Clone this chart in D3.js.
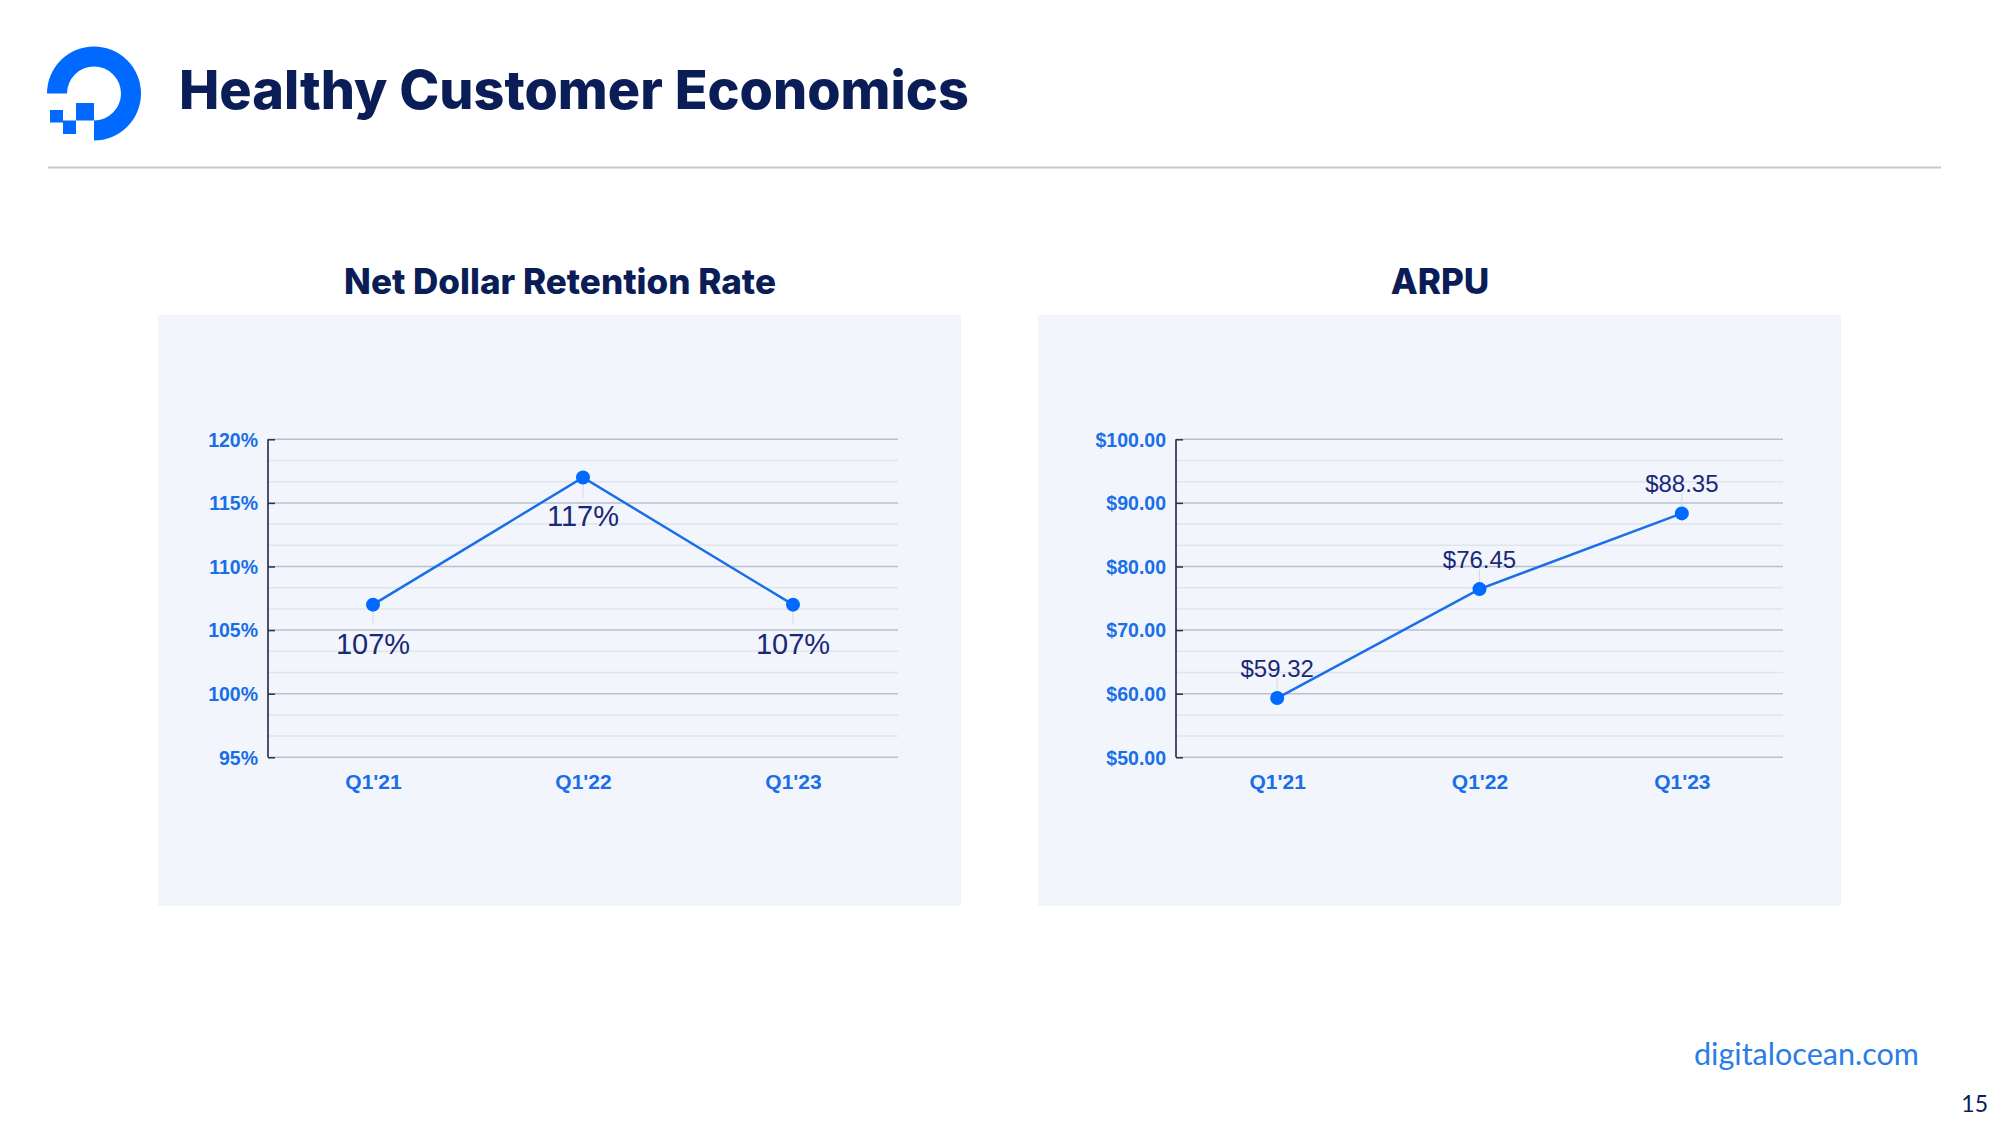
<!DOCTYPE html>
<html>
<head>
<meta charset="utf-8">
<script src="https://cdn.jsdelivr.net/npm/d3@7"></script>
<style>
  html, body { margin: 0; padding: 0; background: #ffffff; }
  svg { display: block; }
</style>
</head>
<body>
<svg id="chart" width="2000" height="1125"></svg>
<script>
// ---------- DATA ----------
const pageTitle = "Healthy Customer Economics";
const categories = ["Q1'21", "Q1'22", "Q1'23"];

const ndrTitle = "Net Dollar Retention Rate";
const ndrValues = [107, 117, 107];
const ndrLabels = ["107%", "117%", "107%"];
const ndrTicks = [95, 100, 105, 110, 115, 120];
const ndrTickLabels = ["95%", "100%", "105%", "110%", "115%", "120%"];

const arpuTitle = "ARPU";
const arpuValues = [59.32, 76.45, 88.35];
const arpuLabels = ["$59.32", "$76.45", "$88.35"];
const arpuTicks = [50, 60, 70, 80, 90, 100];
const arpuTickLabels = ["$50.00", "$60.00", "$70.00", "$80.00", "$90.00", "$100.00"];

const footerText = "digitalocean.com";
const pageNumber = "15";

// ---------- STYLE ----------
const NAVY = "#0b1d57";
const BLUE = "#0069ff";
const TICKBLUE = "#1a6ee8";
const LABELNAVY = "#1a2878";

const svg = d3.select("#chart");
svg.append("rect").attr("width", 2000).attr("height", 1125).attr("fill", "#ffffff");

function fitWidth(sel, target) {
  const node = sel.node();
  const fs = parseFloat(sel.attr("font-size"));
  const w = node.getComputedTextLength();
  if (w > 0) sel.attr("font-size", (fs * target / w).toFixed(2));
  return parseFloat(sel.attr("font-size"));
}

// ---------- LOGO ----------
const logo = svg.append("g").attr("fill", BLUE);
const cx = 94, cy = 93.5, R = 47, r = 27;
const arc = d3.arc().innerRadius(r).outerRadius(R)
  .startAngle(-Math.PI / 2).endAngle(Math.PI);
logo.append("path").attr("d", arc()).attr("transform", `translate(${cx},${cy})`);
logo.append("rect").attr("x", 76).attr("y", 103).attr("width", 18).attr("height", 17.5);
logo.append("rect").attr("x", 63).attr("y", 120.5).attr("width", 13).attr("height", 13.5);
logo.append("rect").attr("x", 50).attr("y", 110).attr("width", 13).attr("height", 12.5);

// ---------- HEADER ----------
const ttl = svg.append("text")
  .attr("x", 179).attr("y", 109)
  .attr("font-family", "Inter, 'Noto Sans', sans-serif")
  .attr("font-weight", 800).attr("font-size", 54)
  .attr("fill", NAVY).text(pageTitle);
fitWidth(ttl, 790);

svg.append("line").attr("x1", 48).attr("x2", 1941).attr("y1", 167.5).attr("y2", 167.5)
  .attr("stroke", "#c9c9c9").attr("stroke-width", 2);

// ---------- FOOTER ----------
const ft = svg.append("text")
  .attr("x", 1694).attr("y", 1065)
  .attr("font-family", "Lato, 'Open Sans', sans-serif")
  .attr("font-size", 28).attr("fill", "#2a7de8").text(footerText);
fitWidth(ft, 225);

svg.append("text").attr("x", 1988).attr("y", 1112).attr("text-anchor", "end")
  .attr("font-family", "Lato, 'Open Sans', sans-serif")
  .attr("font-size", 23).attr("fill", NAVY).text(pageNumber);

// ---------- CHART PANEL ----------
let chartTitleSize = null;

function drawPanel(opts) {
  const g = svg.append("g");
  g.append("rect").attr("x", opts.panelX).attr("y", 315)
    .attr("width", 803).attr("height", 591).attr("fill", "#f2f6fc");

  const t = g.append("text")
    .attr("x", opts.titleX).attr("y", 294).attr("text-anchor", "middle")
    .attr("font-family", "Inter, 'Noto Sans', sans-serif")
    .attr("font-weight", 800).attr("font-size", chartTitleSize || 33)
    .attr("fill", NAVY).text(opts.title);
  if (!chartTitleSize) chartTitleSize = fitWidth(t, opts.titleW);

  const x = d3.scalePoint().domain(categories)
    .range([opts.axisX, opts.axisRight]).padding(0.5);
  const y = d3.scaleLinear().domain(opts.domain).range([757.3, 439.3]);

  // minor grid
  const step = (opts.ticks[1] - opts.ticks[0]) / 3;
  const minor = d3.range(0, (opts.domain[1] - opts.domain[0]) / step + 0.5)
    .map(i => opts.domain[0] + i * step)
    .filter(v => !opts.ticks.some(tk => Math.abs(tk - v) < 1e-6));
  g.selectAll(".minor").data(minor).join("line")
    .attr("x1", opts.axisX).attr("x2", opts.axisRight)
    .attr("y1", d => y(d)).attr("y2", d => y(d))
    .attr("stroke", "#dfe5ed").attr("stroke-width", 1.5);

  // major grid
  g.selectAll(".major").data(opts.ticks).join("line")
    .attr("x1", opts.axisX).attr("x2", opts.axisRight)
    .attr("y1", d => y(d)).attr("y2", d => y(d))
    .attr("stroke", "#b9c0cb").attr("stroke-width", 1.5);

  // y axis
  const yAxis = d3.axisLeft(y).tickValues(opts.ticks)
    .tickFormat((d, i) => opts.tickLabels[i]).tickSize(-7).tickPadding(10);
  const ya = g.append("g").attr("transform", `translate(${opts.axisX},0)`).call(yAxis);
  ya.select(".domain").attr("stroke", "#141a3a").attr("stroke-width", 1.5)
    .attr("d", `M0,${y.range()[0]}V${y.range()[1]}`);
  ya.selectAll(".tick line").attr("stroke", "#2a3050").attr("stroke-width", 1.5);
  ya.selectAll(".tick text")
    .attr("font-family", "'Liberation Sans', Arial, sans-serif")
    .attr("font-weight", 700).attr("font-size", 19.5).attr("fill", TICKBLUE)
    .attr("dy", "0.35em");

  // x axis
  const xAxis = d3.axisBottom(x).tickSize(0).tickPadding(0);
  const xa = g.append("g").attr("transform", `translate(0,757.3)`).call(xAxis);
  xa.select(".domain").remove();
  xa.selectAll(".tick text")
    .attr("font-family", "'Liberation Sans', Arial, sans-serif")
    .attr("font-weight", 700).attr("font-size", 21).attr("fill", TICKBLUE)
    .attr("y", 32).attr("dy", 0);

  const pts = categories.map((c, i) => ({ c, v: opts.values[i], l: opts.labels[i] }));

  // leader lines
  g.selectAll(".leader").data(pts).join("line")
    .attr("x1", d => x(d.c)).attr("x2", d => x(d.c))
    .attr("y1", d => y(d.v))
    .attr("y2", d => y(d.v) + opts.leader)
    .attr("stroke", "#d3d9e1").attr("stroke-width", 1);

  // line
  const line = d3.line().x(d => x(d.c)).y(d => y(d.v));
  g.append("path").datum(pts).attr("d", line)
    .attr("fill", "none").attr("stroke", "#1a6fe8").attr("stroke-width", 2.5);

  g.selectAll(".pt").data(pts).join("circle")
    .attr("cx", d => x(d.c)).attr("cy", d => y(d.v)).attr("r", 7)
    .attr("fill", BLUE);

  g.selectAll(".lbl").data(pts).join("text")
    .attr("x", d => x(d.c)).attr("y", d => y(d.v) + opts.labelDy)
    .attr("text-anchor", "middle")
    .attr("font-family", "'Liberation Sans', Arial, sans-serif")
    .attr("font-size", opts.labelSize).attr("fill", LABELNAVY)
    .text(d => d.l);
}

drawPanel({
  panelX: 158, title: ndrTitle, titleX: 560, titleW: 432,
  axisX: 268, axisRight: 898, domain: [95, 120],
  ticks: ndrTicks, tickLabels: ndrTickLabels,
  values: ndrValues, labels: ndrLabels,
  labelDy: 49, labelSize: 29, leader: 20
});

drawPanel({
  panelX: 1038, title: arpuTitle, titleX: 1440, titleW: 80,
  axisX: 1176, axisRight: 1783, domain: [50, 100],
  ticks: arpuTicks, tickLabels: arpuTickLabels,
  values: arpuValues, labels: arpuLabels,
  labelDy: -21, labelSize: 24, leader: -20
});
</script>
</body>
</html>
